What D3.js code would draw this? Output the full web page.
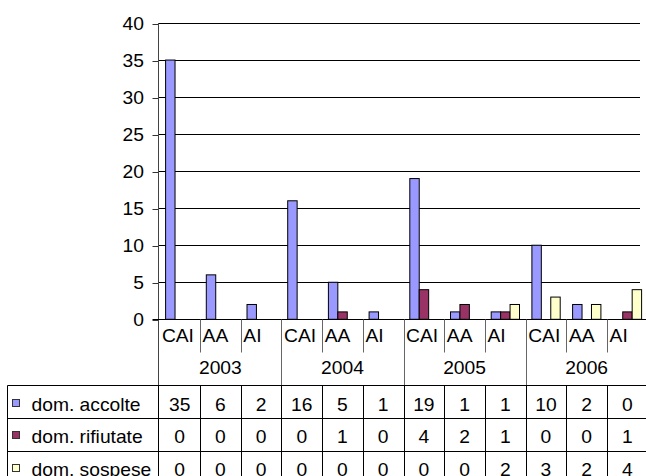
<!DOCTYPE html>
<html>
<head>
<meta charset="utf-8">
<script src="https://cdn.jsdelivr.net/npm/d3@7"></script>
<style>
  html, body { margin: 0; padding: 0; background: #fff; }
  svg { display: block; }
  text { font-family: "Liberation Sans", Arial, sans-serif; fill: #000; }
</style>
</head>
<body>
<svg id="chart" width="646" height="476"></svg>
<script>
// Years and the three sub-categories inside each year
const years = ["2003", "2004", "2005", "2006"];
const subcats = ["CAI", "AA", "AI"];

// Series values, one per (year, sub-category) pair
const accolte   = [35, 6, 2, 16, 5, 1, 19, 1, 1, 10, 2, 0];
const rifiutate = [0, 0, 0, 0, 1, 0, 4, 2, 1, 0, 0, 1];
const sospese   = [0, 0, 0, 0, 0, 0, 0, 0, 2, 3, 2, 4];

const seriesNames = ["dom. accolte", "dom. rifiutate", "dom. sospese"];
const seriesColors = ["#9999FF", "#993366", "#FFFFCC"];
const yTicks = [0, 5, 10, 15, 20, 25, 30, 35, 40];

const seriesValues = [accolte, rifiutate, sospese];
const categories = [];
years.forEach(y => subcats.forEach(s => categories.push({ year: y, sub: s })));

const svg = d3.select("#chart");
const W = 646;

const axisX = 158.5;
const plotRight = 640;
const catStart = 159.3, catW = 40.7;

const x = d3.scaleBand()
  .domain(d3.range(categories.length))
  .range([catStart, catStart + catW * categories.length])
  .paddingInner(0).paddingOuter(0);

const xs = d3.scaleBand()
  .domain(d3.range(seriesNames.length))
  .range([6.3, catW - 6.1])
  .padding(0);

const y = d3.scaleLinear().domain([0, 40]).range([319.3, 23]);
const crisp = v => Math.round(v) + 0.5;

// Text with a slightly widened face
const FS = 17.5, SX = 1.1;
function label(parent, tx, ty, str, anchor) {
  parent.append("g")
    .attr("transform", `translate(${tx},${ty})`)
    .append("text")
    .attr("transform", `scale(${SX},1)`)
    .attr("text-anchor", anchor || "start")
    .attr("font-size", FS)
    .text(str);
}

// Horizontal gridlines
svg.append("g").selectAll("line")
  .data(yTicks.filter(t => t > 0))
  .join("line")
  .attr("x1", axisX).attr("x2", plotRight)
  .attr("y1", d => crisp(y(d))).attr("y2", d => crisp(y(d)))
  .attr("stroke", "#000").attr("stroke-width", 1);

// Bars
const barG = svg.append("g");
seriesValues.forEach((vals, si) => {
  barG.append("g").selectAll("rect")
    .data(vals.map((v, i) => ({ v, i })).filter(d => d.v > 0))
    .join("rect")
    .attr("x", d => x(d.i) + xs(si))
    .attr("y", d => y(d.v))
    .attr("width", xs.bandwidth())
    .attr("height", d => y(0) - y(d.v))
    .attr("fill", seriesColors[si])
    .attr("stroke", "#000").attr("stroke-width", 1);
});

// Y axis with ticks on the left
const yAxis = d3.axisLeft(y).tickValues(yTicks).tickSize(6).tickPadding(9).tickFormat(d3.format("d"));
const yAxisG = svg.append("g").attr("transform", `translate(${axisX},0)`).call(yAxis);
yAxisG.select(".domain").remove();
yAxisG.selectAll(".tick line").attr("stroke", "#333").attr("y1", 0).attr("y2", 0)
  .each(function () {
    const t = d3.select(this.parentNode);
    const ty = +t.attr("transform").match(/,([\d.]+)\)/)[1];
    t.attr("transform", `translate(0,${crisp(ty)})`);
  });
yAxisG.selectAll(".tick text").remove();
yTicks.forEach(t => label(svg, 144, crisp(y(t)) + 6.5, String(t), "end"));

// Vertical axis line, continued down through the header rows
svg.append("line")
  .attr("x1", axisX).attr("x2", axisX).attr("y1", 23).attr("y2", 476)
  .attr("stroke", "#444");

// Zero line
svg.append("line")
  .attr("x1", axisX - 6).attr("x2", W).attr("y1", crisp(y(0))).attr("y2", crisp(y(0)))
  .attr("stroke", "#000");

// Header: sub-category labels and separators
const hdrTop = crisp(y(0));
const subRowBottom = 352.5;
const tableTop = 385.5;
const rowH = 32.6;

categories.forEach((c, i) => {
  const cx = crisp(x(i));
  if (i > 0) {
    const groupEdge = i % subcats.length === 0;
    svg.append("line")
      .attr("x1", cx).attr("x2", cx)
      .attr("y1", hdrTop).attr("y2", groupEdge ? tableTop : subRowBottom)
      .attr("stroke", "#666");
  }
  label(svg, x(i) + 2.6, 341.8, c.sub, "start");
});

years.forEach((yr, gi) => {
  const x0 = x(gi * subcats.length);
  const x1 = x0 + catW * subcats.length;
  label(svg, (x0 + x1) / 2, 374.3, yr, "middle");
});

// Data table
const tableLeft = 7.5;
const tbl = svg.append("g");
tbl.append("line").attr("x1", tableLeft).attr("x2", W)
  .attr("y1", tableTop).attr("y2", tableTop).attr("stroke", "#000");
tbl.append("line").attr("x1", tableLeft).attr("x2", tableLeft)
  .attr("y1", tableTop).attr("y2", 476).attr("stroke", "#000");
tbl.append("line").attr("x1", axisX).attr("x2", axisX)
  .attr("y1", tableTop).attr("y2", 476).attr("stroke", "#000");
categories.forEach((c, i) => {
  if (i === 0) return;
  const cx = crisp(x(i));
  tbl.append("line").attr("x1", cx).attr("x2", cx)
    .attr("y1", tableTop).attr("y2", 476).attr("stroke", "#000");
});

seriesNames.forEach((name, si) => {
  const top = tableTop + rowH * si;
  if (si > 0) {
    tbl.append("line").attr("x1", tableLeft).attr("x2", W)
      .attr("y1", crisp(top)).attr("y2", crisp(top)).attr("stroke", "#000");
  }
  const base = top + 25.1;
  tbl.append("rect")
    .attr("x", 12.5).attr("y", Math.round(top) + 13.5)
    .attr("width", 7).attr("height", 7)
    .attr("fill", seriesColors[si]).attr("stroke", "#333");
  label(tbl, 31.5, base, name, "start");
  seriesValues[si].forEach((v, i) => {
    label(tbl, x(i) + x.bandwidth() / 2, base, String(v), "middle");
  });
});
</script>
</body>
</html>
